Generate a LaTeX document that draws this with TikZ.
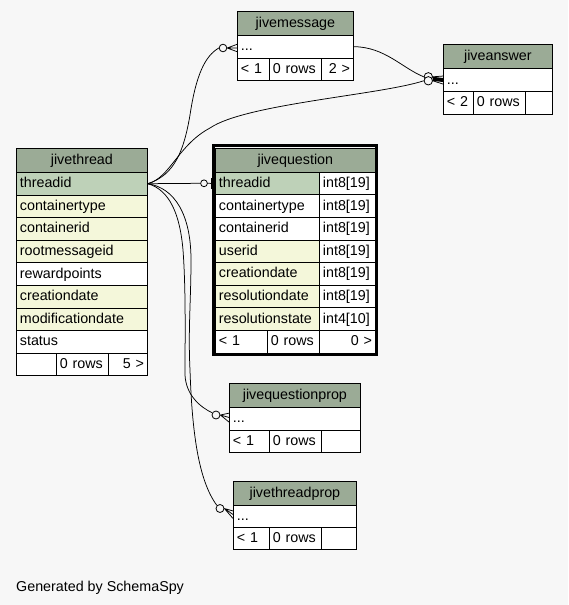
\documentclass[tikz,border=0pt]{standalone}
\usepackage{fontspec}
\setmainfont{Liberation Sans}
\usetikzlibrary{calc}
\definecolor{bg}{HTML}{F7F7F7}
\definecolor{hdcol}{HTML}{9BAB96}
\definecolor{pkcol}{HTML}{BED1B8}
\definecolor{ixcol}{HTML}{F4F7DA}
\newcommand\tabfont{\fontsize{14.3}{17}\selectfont}
\tikzset{
  cell/.style={draw=black, line width=0.8pt, rectangle, inner sep=0pt, anchor=north west,
    text height=10.2pt, text depth=2.2pt, font=\tabfont},
  conn/.style={draw=black, line width=0.75pt},
  odot/.style={circle, draw=black, line width=0.8pt, fill=bg, inner sep=0pt, minimum size=7.6pt},
}
\newcommand\tcell[8]{\pgfmathsetmacro\tcw{#4-7}\node[cell,fill=#6,minimum width=#4pt,minimum height=#5pt,text width=\tcw pt,align=#7] (#1) at (#2,#3) {#8};}
\begin{document}
\begin{tikzpicture}[x=1pt,y=-1pt]
\fill[bg] (0,0) rectangle (568,605);
\useasboundingbox (0,0) rectangle (568,605);

% jivethread
\tcell{jt-h}{16}{148}{131}{24}{hdcol}{center}{jivethread}
\tcell{jt-threadid}{16}{172}{131}{22.6}{pkcol}{left}{threadid}
\tcell{jt-containertype}{16}{194.6}{131}{22.6}{ixcol}{left}{containertype}
\tcell{jt-containerid}{16}{217.2}{131}{22.6}{ixcol}{left}{containerid}
\tcell{jt-rootmessageid}{16}{239.8}{131}{22.6}{ixcol}{left}{rootmessageid}
\tcell{jt-rewardpoints}{16}{262.4}{131}{22.6}{white}{left}{rewardpoints}
\tcell{jt-creationdate}{16}{285}{131}{22.6}{ixcol}{left}{creationdate}
\tcell{jt-modificationdate}{16}{307.6}{131}{22.6}{ixcol}{left}{modificationdate}
\tcell{jt-status}{16}{330.2}{131}{22.6}{white}{left}{status}
\tcell{jt-f1}{16}{352.8}{40}{22.6}{white}{left}{}
\tcell{jt-f2}{56}{352.8}{52}{22.6}{white}{left}{0 rows}
\tcell{jt-f3}{108}{352.8}{39}{22.6}{white}{right}{5 >}

% jivequestion
\tcell{jq-h}{215}{147.5}{160}{24.3}{hdcol}{center}{jivequestion}
\tcell{jq-threadid}{215}{171.8}{104}{22.6}{pkcol}{left}{threadid}
\tcell{jq-threadid-t}{319}{171.8}{56}{22.6}{white}{left}{int8[19]}
\tcell{jq-containertype}{215}{194.4}{104}{22.6}{white}{left}{containertype}
\tcell{jq-containertype-t}{319}{194.4}{56}{22.6}{white}{left}{int8[19]}
\tcell{jq-containerid}{215}{217}{104}{22.6}{white}{left}{containerid}
\tcell{jq-containerid-t}{319}{217}{56}{22.6}{white}{left}{int8[19]}
\tcell{jq-userid}{215}{239.6}{104}{22.6}{ixcol}{left}{userid}
\tcell{jq-userid-t}{319}{239.6}{56}{22.6}{white}{left}{int8[19]}
\tcell{jq-creationdate}{215}{262.2}{104}{22.6}{ixcol}{left}{creationdate}
\tcell{jq-creationdate-t}{319}{262.2}{56}{22.6}{white}{left}{int8[19]}
\tcell{jq-resolutiondate}{215}{284.8}{104}{22.6}{ixcol}{left}{resolutiondate}
\tcell{jq-resolutiondate-t}{319}{284.8}{56}{22.6}{white}{left}{int8[19]}
\tcell{jq-resolutionstate}{215}{307.4}{104}{22.6}{ixcol}{left}{resolutionstate}
\tcell{jq-resolutionstate-t}{319}{307.4}{56}{22.6}{white}{left}{int4[10]}
\tcell{jq-f1}{215}{330}{52}{22.6}{white}{left}{< 1}
\tcell{jq-f2}{267}{330}{52}{22.6}{white}{left}{0 rows}
\tcell{jq-f3}{319}{330}{56}{22.6}{white}{right}{0 >}
\draw[line width=3.3pt] (213.4,145.7) rectangle (376.6,354.2);

% jivemessage
\tcell{jm-h}{237}{11}{116}{24}{hdcol}{center}{jivemessage}
\tcell{jm-row}{237}{35}{116}{22.5}{white}{left}{...}
\tcell{jm-f1}{237}{57.5}{32}{22.5}{white}{left}{< 1}
\tcell{jm-f2}{269}{57.5}{52}{22.5}{white}{left}{0 rows}
\tcell{jm-f3}{321}{57.5}{32}{22.5}{white}{right}{2 >}

% jiveanswer
\tcell{ja-h}{443}{44.3}{109}{24}{hdcol}{center}{jiveanswer}
\tcell{ja-row}{443}{68.3}{109}{22.7}{white}{left}{...}
\tcell{ja-f1}{443}{91}{30}{22.5}{white}{left}{< 2}
\tcell{ja-f2}{473}{91}{52}{22.5}{white}{left}{0 rows}
\tcell{ja-f3}{525}{91}{27}{22.5}{white}{right}{}

% jivequestionprop
\tcell{jqp-h}{229}{383.3}{131}{24}{hdcol}{center}{jivequestionprop}
\tcell{jqp-row}{229}{407.3}{131}{22.3}{white}{left}{...}
\tcell{jqp-f1}{229}{429.6}{40}{22.6}{white}{left}{< 1}
\tcell{jqp-f2}{269}{429.6}{52}{22.6}{white}{left}{0 rows}
\tcell{jqp-f3}{321}{429.6}{39}{22.6}{white}{right}{}

% jivethreadprop
\tcell{jtp-h}{233}{480.7}{123}{23.8}{hdcol}{center}{jivethreadprop}
\tcell{jtp-row}{233}{504.5}{123}{22.3}{white}{left}{...}
\tcell{jtp-f1}{233}{526.8}{36}{22.5}{white}{left}{< 1}
\tcell{jtp-f2}{269}{526.8}{52}{22.5}{white}{left}{0 rows}
\tcell{jtp-f3}{321}{526.8}{35}{22.5}{white}{right}{}

% connector markers
\node[odot] (jm-c) at (223,48) {};
\node[odot, minimum size=8.4pt] (ja-c1) at (428.3,76.8) {};
\node[odot, minimum size=8.4pt] (ja-c2) at (428.3,80.8) {};
\node[odot, minimum size=6.8pt] (jq-c) at (204,183.3) {};
\node[odot, minimum size=8pt] (jqp-c) at (216,415) {};
\node[odot, minimum size=8pt] (jtp-c) at (220,508.5) {};

% connectors
\draw[conn] (jt-threadid.east) .. controls (175,175) and (184,150) .. (190,115)
  .. controls (196,75) and (205,56) .. (jm-c.west);
\draw[conn] (jm-c.east) -- ($(jm-row.west)+(0,-2.3)$)
  (jm-c.east) -- ($(jm-row.west)+(0,1.3)$)
  (jm-c.east) -- ($(jm-row.west)+(0,5)$);

\draw[conn] (jm-row.east) .. controls (385,47) and (402,68) .. (ja-c1.west);
\draw[conn] (jt-threadid.east) .. controls (170,178) and (178,145) .. (210,128)
  .. controls (245,104) and (380,95) .. (ja-c2.west);
\fill (ja-c1.east) -- ($(ja-row.west)+(0,-2)$) -- ($(ja-row.west)+(0,2)$) -- (ja-c2.east) -- cycle;
\draw[conn] (ja-c1.east) -- ($(ja-row.west)+(0,-4)$)
  (ja-c1.east) -- ($(ja-row.west)+(0,0.5)$)
  (ja-c2.east) -- ($(ja-row.west)+(0,-0.5)$)
  (ja-c2.east) -- ($(ja-row.west)+(0,4)$);

\draw[conn] (jt-threadid.east) -- (jq-c.west);
\draw[conn] (jq-c.east) -- (jq-threadid.west);
\fill (210.5,177.5) rectangle (214,189);

\draw[conn] (jt-threadid.east) .. controls (170,190) and (180,215) .. (183,250)
  .. controls (186,290) and (185,340) .. (185,375)
  .. controls (186,395) and (200,407) .. (jqp-c.150);
\draw[conn] (jqp-c.east) -- ($(jqp-row.west)+(0,-5.7)$)
  (jqp-c.east) -- ($(jqp-row.west)+(0,-1.4)$)
  (jqp-c.east) -- ($(jqp-row.west)+(0,3.2)$);

\draw[conn] (jt-threadid.east) .. controls (175,188) and (191,215) .. (191,260)
  .. controls (191,300) and (188,330) .. (190,370)
  .. controls (192,430) and (198,480) .. (jtp-c.north west);
\draw[conn] (jtp-c.east) -- ($(jtp-row.west)+(0,-5.1)$)
  (jtp-c.east) -- ($(jtp-row.west)+(0,-1.6)$)
  (jtp-c.east) -- ($(jtp-row.west)+(0,2.4)$);

\node[anchor=base west, inner sep=0pt, font=\tabfont] (gen) at (16,591) {Generated by SchemaSpy};
\end{tikzpicture}
\end{document}
